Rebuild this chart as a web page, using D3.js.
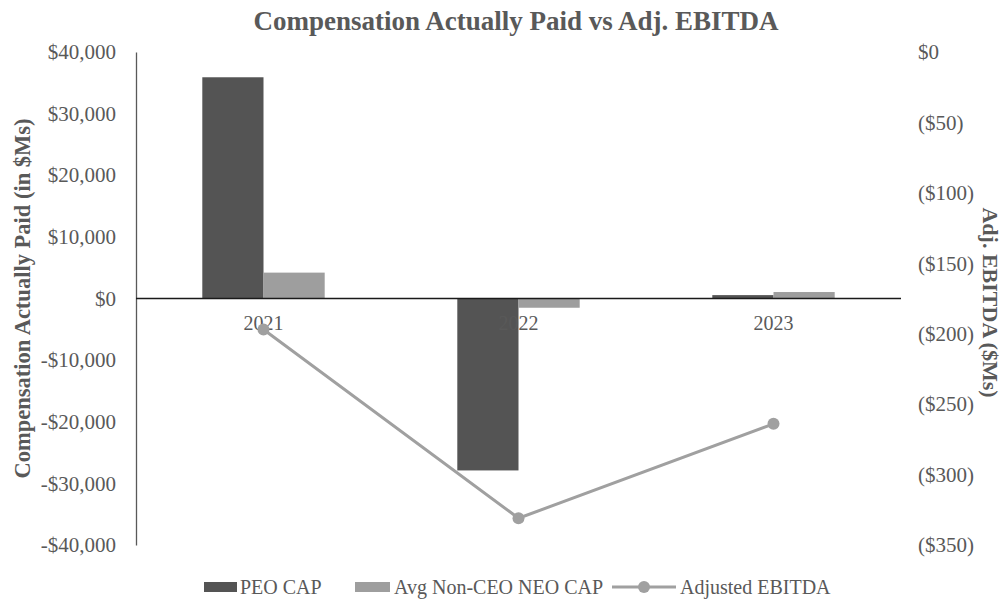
<!DOCTYPE html>
<html>
<head>
<meta charset="utf-8">
<script src="https://cdn.jsdelivr.net/npm/d3@7"></script>
<style>
  html, body { margin: 0; padding: 0; background: #fff; }
  svg { display: block; font-family: "Liberation Serif", "Times New Roman", serif; }
</style>
</head>
<body>
<svg id="chart" width="1008" height="604"></svg>
<script>
// Fiscal years and series
const years = ["2021", "2022", "2023"];
const peoCap = [35900, -27900, 550];
const neoCap = [4200, -1500, 1050];
const adjEbitda = [-197, -331, -264];

const leftTicks = [40000, 30000, 20000, 10000, 0, -10000, -20000, -30000, -40000];
const rightTicks = [0, -50, -100, -150, -200, -250, -300, -350];

const seriesNames = ["PEO CAP", "Avg Non-CEO NEO CAP", "Adjusted EBITDA"];
const colors = { peo: "#545454", neo: "#9e9e9e", line: "#a0a0a0", text: "#595959" };

const svg = d3.select("#chart");
const plot = { left: 136, right: 901, top: 52, bottom: 545 };

const x = d3.scaleBand().domain(years).range([plot.left, plot.right]).paddingInner(0.52).paddingOuter(0.26);
const xSub = d3.scaleBand().domain(["peo", "neo"]).range([0, x.bandwidth()]);
const xc = d => x(d) + x.bandwidth() / 2;

const yL = d3.scaleLinear().domain([-40000, 40000]).range([plot.bottom, plot.top]);
const yR = d3.scaleLinear().domain([-350, 0]).range([plot.bottom, plot.top]);

const fmtL = v => (v < 0 ? "-$" : "$") + d3.format(",")(Math.abs(v));
const fmtR = v => v < 0 ? "($" + Math.abs(v) + ")" : "$" + v;

// Title
svg.append("text")
  .attr("x", 516).attr("y", 30)
  .attr("text-anchor", "middle")
  .attr("font-size", 27).attr("font-weight", "bold")
  .attr("fill", colors.text)
  .text("Compensation Actually Paid vs Adj. EBITDA");

// Left axis
const gL = svg.append("g").attr("transform", `translate(${plot.left},0)`)
  .call(d3.axisLeft(yL).tickValues(leftTicks).tickFormat(fmtL).tickSize(0).tickPadding(20));
gL.select(".domain").attr("stroke", "#595959").attr("stroke-width", 1.3);
gL.selectAll("text").attr("font-size", 21).attr("fill", colors.text).attr("font-family", "Liberation Serif");

// Right axis (labels only)
const gR = svg.append("g").attr("transform", `translate(${plot.right},0)`)
  .call(d3.axisRight(yR).tickValues(rightTicks).tickFormat(fmtR).tickSize(0).tickPadding(17));
gR.select(".domain").remove();
gR.selectAll("text").attr("font-size", 21).attr("fill", colors.text).attr("font-family", "Liberation Serif");

// Axis titles
svg.append("text")
  .attr("transform", `translate(30,${(plot.top + plot.bottom) / 2}) rotate(-90)`)
  .attr("text-anchor", "middle")
  .attr("font-size", 22.5).attr("font-weight", "bold")
  .attr("fill", colors.text)
  .text("Compensation Actually Paid (in $Ms)");

svg.append("text")
  .attr("transform", `translate(983,${(plot.top + plot.bottom) / 2 + 4}) rotate(90)`)
  .attr("text-anchor", "middle")
  .attr("font-size", 22).attr("font-weight", "bold")
  .attr("fill", colors.text)
  .text("Adj. EBITDA ($Ms)");

// Bars
const barData = [];
years.forEach((yr, i) => {
  barData.push({ yr, key: "peo", v: peoCap[i] });
  barData.push({ yr, key: "neo", v: neoCap[i] });
});
svg.append("g").selectAll("rect").data(barData).join("rect")
  .attr("x", d => x(d.yr) + xSub(d.key))
  .attr("width", xSub.bandwidth())
  .attr("y", d => yL(Math.max(0, d.v)))
  .attr("height", d => Math.abs(yL(d.v) - yL(0)))
  .attr("fill", d => colors[d.key]);

// Zero line
svg.append("line")
  .attr("x1", plot.left).attr("x2", plot.right)
  .attr("y1", yL(0)).attr("y2", yL(0))
  .attr("stroke", "#1a1a1a").attr("stroke-width", 1.5);

// Category labels
svg.append("g").selectAll("text").data(years).join("text")
  .attr("x", d => xc(d)).attr("y", yL(0) + 31)
  .attr("text-anchor", "middle")
  .attr("font-size", 20).attr("fill", colors.text)
  .text(d => d);

// EBITDA line
const pts = years.map((yr, i) => [xc(yr), yR(adjEbitda[i])]);
svg.append("path")
  .attr("d", d3.line()(pts))
  .attr("fill", "none").attr("stroke", colors.line).attr("stroke-width", 3);
svg.append("g").selectAll("circle").data(pts).join("circle")
  .attr("cx", d => d[0]).attr("cy", d => d[1]).attr("r", 6)
  .attr("fill", colors.line);

// Legend
const ly = 587;
const lg = svg.append("g").attr("font-size", 20).attr("fill", colors.text);
lg.append("rect").attr("x", 204).attr("y", ly - 5).attr("width", 33).attr("height", 10).attr("fill", colors.peo);
lg.append("text").attr("x", 240).attr("y", ly + 7).text(seriesNames[0]);
lg.append("rect").attr("x", 355).attr("y", ly - 5).attr("width", 35).attr("height", 10).attr("fill", colors.neo);
lg.append("text").attr("x", 394).attr("y", ly + 7).text(seriesNames[1]);
lg.append("line").attr("x1", 612).attr("x2", 676).attr("y1", ly).attr("y2", ly)
  .attr("stroke", colors.line).attr("stroke-width", 3);
lg.append("circle").attr("cx", 644).attr("cy", ly).attr("r", 6).attr("fill", colors.line);
lg.append("text").attr("x", 680).attr("y", ly + 7).text(seriesNames[2]);
</script>
</body>
</html>
